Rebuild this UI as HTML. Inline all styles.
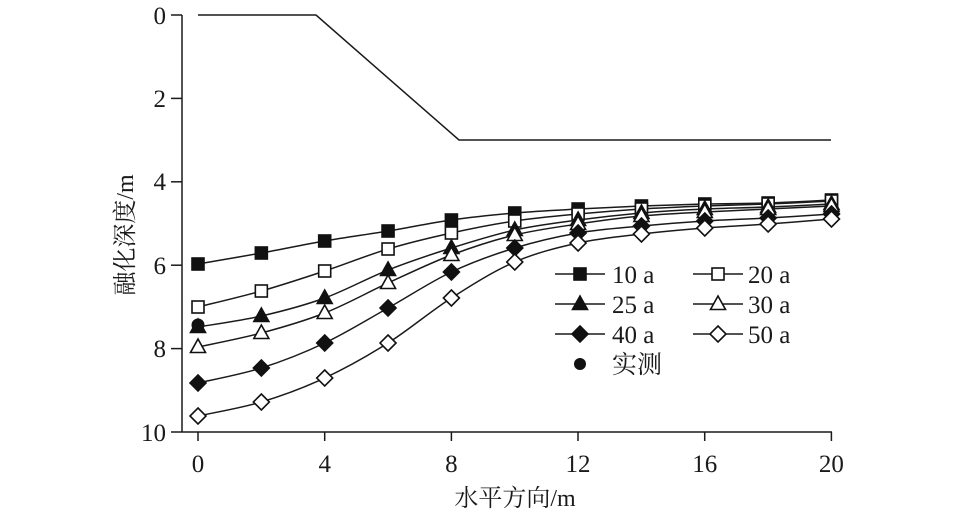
<!DOCTYPE html>
<html><head><meta charset="utf-8"><style>
html,body{margin:0;padding:0;background:#fff;}
text{font-family:'Liberation Serif','Times New Roman','Noto Serif CJK SC',serif;fill:#1a1a1a;}
</style></head><body>
<svg id="s" width="957" height="518" viewBox="0 0 957 518" xmlns="http://www.w3.org/2000/svg">
<g stroke="#1a1a1a" stroke-width="1.5" fill="none">
<line x1="182" y1="15" x2="182" y2="432"/>
<line x1="182" y1="432" x2="832" y2="432"/>
<line x1="171" y1="15" x2="182" y2="15"/>
<line x1="171" y1="98.4" x2="182" y2="98.4"/>
<line x1="171" y1="181.8" x2="182" y2="181.8"/>
<line x1="171" y1="265.2" x2="182" y2="265.2"/>
<line x1="171" y1="348.6" x2="182" y2="348.6"/>
<line x1="171" y1="432" x2="182" y2="432"/>
<line x1="198" y1="432" x2="198" y2="441"/>
<line x1="324.7" y1="432" x2="324.7" y2="441"/>
<line x1="451.4" y1="432" x2="451.4" y2="441"/>
<line x1="578" y1="432" x2="578" y2="441"/>
<line x1="704.7" y1="432" x2="704.7" y2="441"/>
<line x1="831.4" y1="432" x2="831.4" y2="441"/>
<polyline points="198,15 316,15 459,140 831,140"/>
</g>
<g font-size="25" text-anchor="end" font-family="Liberation Serif, Times New Roman, serif">
<text x="166" y="24">0</text><text x="166" y="107">2</text><text x="166" y="190">4</text>
<text x="166" y="274">6</text><text x="166" y="357">8</text><text x="166" y="441">10</text>
</g>
<g font-size="25" text-anchor="middle" font-family="Liberation Serif, Times New Roman, serif">
<text x="198" y="472">0</text><text x="324.7" y="472">4</text><text x="451.4" y="472">8</text>
<text x="578" y="472">12</text><text x="704.7" y="472">16</text><text x="831.4" y="472">20</text>
</g>
<text x="515" y="506" font-size="24" text-anchor="middle">水平方向/m</text>
<text transform="translate(133,235) rotate(-90)" font-size="24" text-anchor="middle">融化深度/m</text>
<g id="series"></g>
<g font-size="25" font-family="Liberation Serif, Times New Roman, Noto Serif CJK SC, serif">
<text x="612" y="283">10 a</text><text x="748" y="283">20 a</text>
<text x="612" y="313">25 a</text><text x="748" y="313">30 a</text>
<text x="612" y="343">40 a</text><text x="748" y="343">50 a</text>
<text x="612" y="373">实测</text>
</g>
<circle cx="580" cy="364" r="6" fill="#111"/>
<circle cx="198" cy="325" r="6.5" fill="#111"/>
</svg>
<script>
var NS="http://www.w3.org/2000/svg";
var g=document.getElementById("series");
var data=[
["sq",1,[264,253,241,231,220,213,209,206,204,203,200]],
["sq",0,[307,291,271,249,233,221,214,209,206,204,201]],
["tri",1,[327,316,298,270,248,230,220,213,209,207,204]],
["tri",0,[347,333,313,283,255,235,224,216,212,209,206]],
["dia",1,[383,368,343,308,272,248,233,226,221,218,214]],
["dia",0,[416,402,378,343,298,262,243,234,228,224,219]]];
function el(t,a){var e=document.createElementNS(NS,t);for(var k in a)e.setAttribute(k,a[k]);g.appendChild(e);return e;}
function marker(type,fill,x,y){
 var f=fill?"#111":"#fff",a={fill:f,stroke:"#111","stroke-width":1.6};
 if(type=="sq"){a.x=x-6;a.y=y-6;a.width=12;a.height=12;el("rect",a);}
 else if(type=="tri"){a.points=(x)+","+(y-8)+" "+(x-7.5)+","+(y+5.5)+" "+(x+7.5)+","+(y+5.5);el("polygon",a);}
 else {a.points=x+","+(y-8)+" "+(x+8)+","+y+" "+x+","+(y+8)+" "+(x-8)+","+y;el("polygon",a);}
}
data.forEach(function(s){
 var p=s[2].map(function(y,i){return [198+i*63.35,y];});
 var d="M"+p[0][0]+","+p[0][1];
 for(var i=0;i<p.length-1;i++){
  var p0=p[i-1]||p[i],p1=p[i],p2=p[i+1],p3=p[i+2]||p[i+1];
  d+=" C"+(p1[0]+(p2[0]-p0[0])/6)+","+(p1[1]+(p2[1]-p0[1])/6)+" "+(p2[0]-(p3[0]-p1[0])/6)+","+(p2[1]-(p3[1]-p1[1])/6)+" "+p2[0]+","+p2[1];
 }
 el("path",{d:d,fill:"none",stroke:"#1a1a1a","stroke-width":1.5});
 p.forEach(function(q){marker(s[0],s[1],q[0],q[1]);});
});
var leg=[[555,274,"sq",1],[693,274,"sq",0],[555,304,"tri",1],[693,304,"tri",0],[555,334,"dia",1],[693,334,"dia",0]];
leg.forEach(function(l){el("line",{x1:l[0],y1:l[1],x2:l[0]+50,y2:l[1],stroke:"#1a1a1a","stroke-width":1.5});marker(l[2],l[3],l[0]+25,l[1]);});
</script>
</body></html>
